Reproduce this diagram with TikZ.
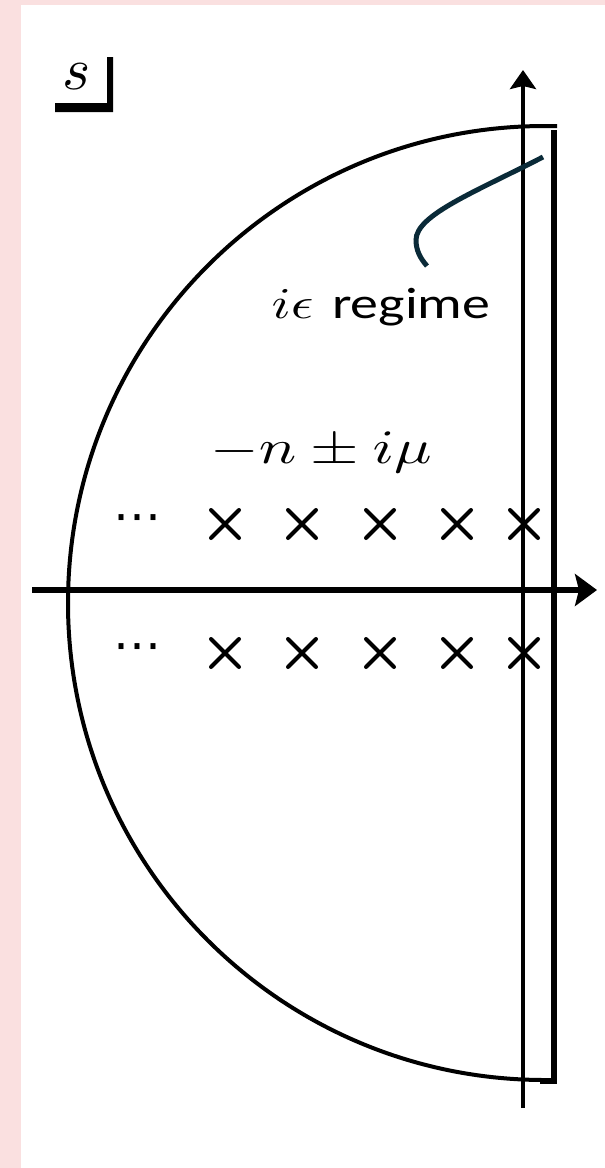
\documentclass[tikz,border=0pt]{standalone}
\usepackage{fontspec}
\newfontfamily\carlito{Carlito}
\newfontfamily\dejavu{DejaVu Sans}
\usetikzlibrary{arrows.meta}
\definecolor{pinkbg}{RGB}{250,224,224}
\definecolor{navyline}{RGB}{10,42,56}
\begin{document}
\begin{tikzpicture}[x=1pt,y=-1pt,
  contour/.style={line width=4pt, black},
  rightedge/.style={line width=6pt, black, line join=miter},
  haxis/.style={line width=6.5pt, -{Stealth[length=22pt,width=32pt,inset=4pt]}},
  vaxis/.style={line width=4.5pt, -{Stealth[length=19pt,width=26pt,inset=3pt]}},
  polecross/.style={line width=4pt, line cap=round},
  pointer/.style={line width=5pt, navyline},
  lbl/.style={inner sep=0pt, anchor=base},
  dotslbl/.style={font=\dejavu\fontsize{48}{52}\selectfont, inner sep=0pt}
]
\useasboundingbox (0,0) rectangle (605,1168);
\fill[pinkbg] (0,0) rectangle (605,1168);
\fill[white] (21,5) rectangle (605,1168);

% s label with corner mark
\node[lbl] (slabel) at (77,89) {\scalebox{6}{$s$}};
\fill (55,103) -- (107,103) -- (107,57) -- (113,57) -- (113,112) -- (55,112) -- cycle;

% contour: half circle plus right edge
\draw[contour] (557,126) -- (545,126) arc[start angle=270, end angle=90, radius=477];
\draw[rightedge] (554,130) -- (554,1081) -- (540,1081);

% axes
\coordinate (hstart) at (32,590);
\coordinate (hend) at (597,590);
\coordinate (vstart) at (523,1108);
\coordinate (vend) at (523,70);
\draw[haxis] (hstart) -- (hend);
\draw[vaxis] (vstart) -- (vend);

% poles
\foreach \x in {225,302,380,457,524}
  \foreach \y in {524,653}
    \draw[polecross] (\x-14,\y-14) -- (\x+14,\y+14) (\x-14,\y+14) -- (\x+14,\y-14);

\node[dotslbl] (dotsup) at (137,524) {⋯};
\node[dotslbl] (dotsdown) at (137,653) {⋯};

% labels
\node[lbl] (poles) at (321,463) {\scalebox{6.24}[4.8]{$-n\pm i\mu$}};
\node[lbl] (regime) at (381,318) {\scalebox{5.59}[4.4]{$i\epsilon$ {\carlito regime}}};

% pointer curve
\coordinate (pstart) at (543,157);
\coordinate (pbend) at (416,240);
\coordinate (pend) at (427,266);
\draw[pointer] (pstart) .. controls (475,192) and (416,215) .. (pbend) .. controls (416,250) and (420,258) .. (pend);
\end{tikzpicture}
\end{document}
